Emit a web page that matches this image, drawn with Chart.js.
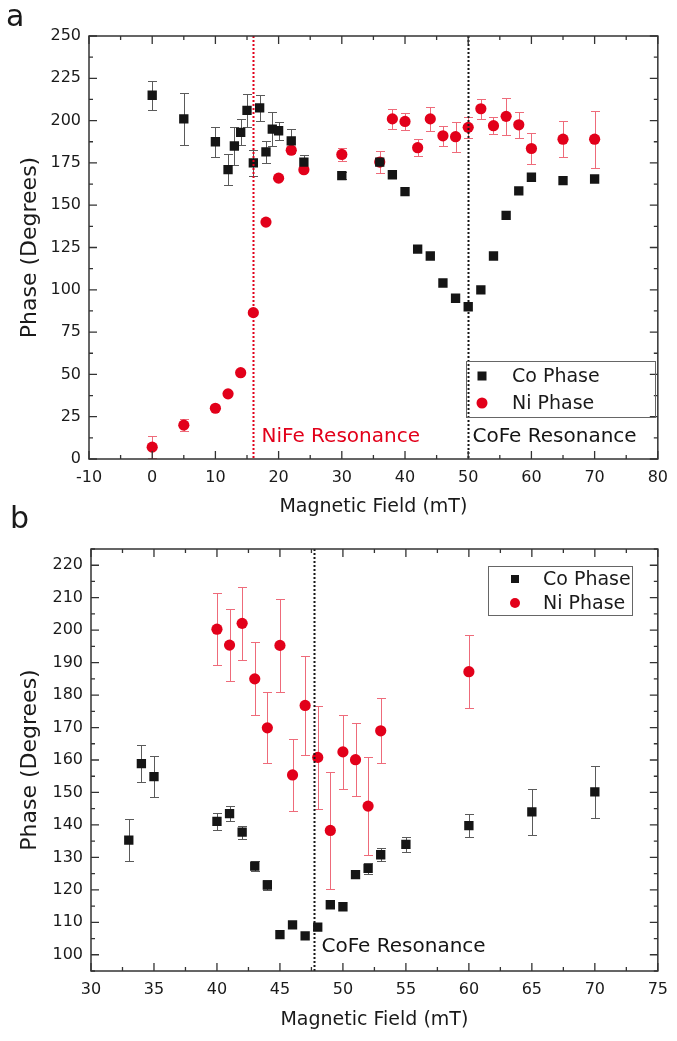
<!DOCTYPE html>
<html>
<head>
<meta charset="utf-8">
<script src="https://cdn.jsdelivr.net/npm/chart.js@4.4.0/dist/chart.umd.min.js"></script>
<style>
html, body { margin: 0; padding: 0; background: #fff; }
#wrap { position: relative; width: 677px; height: 1041px; }
.panel { position: absolute; left: 0; width: 677px; }
</style>
</head>
<body>
<div id="wrap">
  <div class="panel" style="top:0;height:525px"><canvas id="chartA"></canvas></div>
  <div class="panel" style="top:500px;height:541px"><canvas id="chartB"></canvas></div>
</div>
<script>
// ---- panel a data ----
const coFieldA = [0, 5, 10, 12, 13, 14, 15, 16, 17, 18, 19, 20, 22, 24, 30, 36, 38, 40, 42, 44, 46, 48, 50, 52, 54, 56, 58, 60, 65, 70];
const coPhaseA = [215, 201, 187.5, 171, 185, 193, 206, 175, 207.5, 181.5, 195, 194, 188, 175.5, 167.5, 175.5, 168, 158, 124, 120, 104, 95, 90, 100, 120, 144, 158.5, 166.5, 164.5, 165.5];
const coErrA   = [8.5, 15.5, 9, 9, 11.5, 7.7, 10, 7.7, 7.6, 6.6, 10, 5.4, 7, 4, 2, 0, 0, 0, 0, 0, 0, 0, 0, 0, 0, 0, 0, 0, 0, 0];
const niFieldA = [0, 5, 10, 12, 14, 16, 18, 20, 22, 24, 30, 36, 38, 40, 42, 44, 46, 48, 50, 52, 54, 56, 58, 60, 65, 70];
const niPhaseA = [7, 20, 30, 38.5, 51, 86.5, 140, 166, 182.5, 171, 180, 175.5, 201, 199.5, 184, 201, 191, 190.5, 196, 207, 197, 202.5, 197.5, 183.5, 189, 189];
const niErrA   = [6.3, 3.5, 0, 0, 0, 0, 0, 0, 0, 0, 3.7, 6.4, 5.8, 4.9, 5.2, 7.1, 6.1, 8.9, 6, 5.9, 5.1, 11, 7.5, 9, 10.8, 16.8];
const xTicksA = [-10, 0, 10, 20, 30, 40, 50, 60, 70, 80];
const yTicksA = [0, 25, 50, 75, 100, 125, 150, 175, 200, 225, 250];

// ---- panel b data ----
const coFieldB = [33, 34, 35, 40, 41, 42, 43, 44, 45, 46, 47, 48, 49, 50, 51, 52, 53, 55, 60, 65, 70];
const coPhaseB = [135.3, 158.9, 154.9, 141.1, 143.5, 137.8, 127.3, 121.5, 106.2, 109.2, 105.8, 108.5, 115.4, 114.8, 124.7, 126.6, 130.8, 134, 139.8, 144, 150.2];
const coErrB   = [6.4, 5.7, 6.3, 2.6, 2.4, 2, 1.5, 1.5, 0, 0, 0, 0, 0, 0, 0, 1.8, 2, 2.3, 3.6, 7, 8];
const niFieldB = [40, 41, 42, 43, 44, 45, 46, 47, 48, 49, 50, 51, 52, 53, 60];
const niPhaseB = [200.3, 195.4, 202.1, 185, 169.9, 195.3, 155.4, 176.8, 160.8, 138.3, 162.5, 160.1, 145.8, 169, 187.2];
const niErrB   = [11, 11.2, 11.3, 11.2, 10.9, 14.4, 11.2, 15.2, 15.8, 17.9, 11.4, 11.3, 15.1, 10, 11.2];
const xTicksB = [30, 35, 40, 45, 50, 55, 60, 65, 70, 75];
const yTicksB = [100, 110, 120, 130, 140, 150, 160, 170, 180, 190, 200, 210, 220];

const RED = '#e2001a';
const BLACK = '#151515';
const FONT = '"DejaVu Sans", sans-serif';

function pts(xs, ys) {
  return xs.map((x, i) => ({ x: x, y: ys[i] }));
}

// half-way ticks, plus the ones hanging past the ends if still inside the axis
function minorTicks(major, min, max) {
  const out = [];
  const step = major[1] - major[0];
  if (major[0] - step / 2 >= min) out.push(major[0] - step / 2);
  for (let i = 0; i < major.length - 1; i++) out.push((major[i] + major[i + 1]) / 2);
  const last = major[major.length - 1];
  if (last + step / 2 <= max) out.push(last + step / 2);
  return out;
}

// frame, inward ticks, error bars, marker lines, legend, titles
const decoPlugin = {
  id: 'deco',
  beforeDatasetsDraw(chart) {
    const ctx = chart.ctx, xs = chart.scales.x, ys = chart.scales.y;
    chart.data.datasets.forEach(ds => {
      if (!ds.errors) return;
      ctx.save();
      ctx.strokeStyle = ds.errorColor;
      ctx.lineWidth = 1;
      ds.data.forEach((p, j) => {
        const e = ds.errors[j];
        if (!e) return;
        const x = Math.round(xs.getPixelForValue(p.x)) + 0.5;
        const y1 = Math.round(ys.getPixelForValue(p.y - e)) + 0.5;
        const y2 = Math.round(ys.getPixelForValue(p.y + e)) + 0.5;
        ctx.beginPath();
        ctx.moveTo(x, y1); ctx.lineTo(x, y2);
        ctx.moveTo(x - 4.5, y1); ctx.lineTo(x + 4.5, y1);
        ctx.moveTo(x - 4.5, y2); ctx.lineTo(x + 4.5, y2);
        ctx.stroke();
      });
      ctx.restore();
    });
  },
  afterDraw(chart, args, o) {
    const ctx = chart.ctx, a = chart.chartArea, xs = chart.scales.x, ys = chart.scales.y;
    ctx.save();

    // resonance lines
    o.lines.forEach(l => {
      const px = Math.round(xs.getPixelForValue(l.x)) + 0.5;
      ctx.strokeStyle = l.color;
      ctx.lineWidth = 2;
      ctx.setLineDash([2, 2]);
      ctx.beginPath();
      ctx.moveTo(px, a.top);
      ctx.lineTo(px, a.bottom);
      ctx.stroke();
      ctx.setLineDash([]);
      ctx.fillStyle = l.color;
      ctx.font = '20px ' + FONT;
      ctx.textAlign = 'left';
      ctx.textBaseline = 'middle';
      ctx.fillText(l.text, px + l.dx, a.bottom + l.dy);
    });

    // frame
    ctx.strokeStyle = '#333';
    ctx.lineWidth = 1.5;
    ctx.strokeRect(a.left, a.top, a.right - a.left, a.bottom - a.top);

    // inward tick marks on all four sides
    ctx.lineWidth = 1.3;
    const xTick = (v, len) => {
      const px = xs.getPixelForValue(v);
      ctx.beginPath();
      ctx.moveTo(px, a.bottom); ctx.lineTo(px, a.bottom - len);
      ctx.moveTo(px, a.top); ctx.lineTo(px, a.top + len);
      ctx.stroke();
    };
    const yTick = (v, len) => {
      const py = ys.getPixelForValue(v);
      ctx.beginPath();
      ctx.moveTo(a.left, py); ctx.lineTo(a.left + len, py);
      ctx.moveTo(a.right, py); ctx.lineTo(a.right - len, py);
      ctx.stroke();
    };
    o.xMajor.forEach(v => xTick(v, 8));
    minorTicks(o.xMajor, xs.min, xs.max).forEach(v => xTick(v, 4));
    o.yMajor.forEach(v => yTick(v, 8));
    minorTicks(o.yMajor, ys.min, ys.max).forEach(v => yTick(v, 4));

    // legend
    const lg = o.legend;
    ctx.strokeStyle = '#666';
    ctx.lineWidth = 1;
    ctx.strokeRect(lg.x + 0.5, lg.y + 0.5, lg.w, lg.h);
    ctx.font = '19px ' + FONT;
    ctx.textAlign = 'left';
    ctx.textBaseline = 'middle';
    lg.items.forEach((it, i) => {
      const cy = lg.y + lg.first + i * lg.gap;
      ctx.fillStyle = it.color;
      if (it.shape === 'rect') {
        ctx.fillRect(lg.mx - lg.ms / 2, cy - lg.ms / 2, lg.ms, lg.ms);
      } else {
        ctx.beginPath();
        ctx.arc(lg.mx, cy, lg.ms / 2 + 1, 0, Math.PI * 2);
        ctx.fill();
      }
      ctx.fillStyle = '#1a1a1a';
      ctx.fillText(it.label, lg.tx, cy + 1);
    });

    // axis titles
    ctx.fillStyle = '#1a1a1a';
    ctx.font = '19px ' + FONT;
    ctx.textAlign = 'center';
    ctx.textBaseline = 'middle';
    ctx.fillText(o.xTitle, (a.left + a.right) / 2, o.xTitleY);
    ctx.save();
    ctx.font = '22px ' + FONT;
    ctx.translate(o.yTitleX, (a.top + a.bottom) / 2);
    ctx.rotate(-Math.PI / 2);
    ctx.fillText(o.yTitle, 0, 0);
    ctx.restore();

    // panel letter
    ctx.font = '30px ' + FONT;
    ctx.textAlign = 'left';
    ctx.fillText(o.letter, o.letterX, o.letterY);

    ctx.restore();
  }
};

function makePanel(id, p) {
  const tickFont = { family: FONT, size: 16 };
  new Chart(document.getElementById(id), {
    type: 'scatter',
    data: {
      datasets: [
        {
          label: 'Co Phase',
          data: pts(p.coField, p.coPhase),
          errors: p.coErr,
          errorColor: '#5a5a5a',
          pointStyle: 'rect',
          pointRadius: 6.6,
          backgroundColor: BLACK,
          borderWidth: 0
        },
        {
          label: 'Ni Phase',
          data: pts(p.niField, p.niPhase),
          errors: p.niErr,
          errorColor: '#ee6b7a',
          pointStyle: 'circle',
          pointRadius: 5.6,
          backgroundColor: RED,
          borderWidth: 0
        }
      ]
    },
    options: {
      responsive: true,
      maintainAspectRatio: false,
      animation: false,
      layout: { padding: { top: p.padTop, right: p.padRight, left: 0, bottom: 0 } },
      plugins: {
        legend: { display: false },
        tooltip: { enabled: false },
        deco: p.deco
      },
      scales: {
        x: {
          type: 'linear',
          min: p.xMin, max: p.xMax,
          afterBuildTicks: s => { s.ticks = p.xTicks.map(v => ({ value: v })); },
          afterFit: s => { s.height = p.xHeight; },
          grid: { display: false, drawTicks: false },
          border: { display: false },
          ticks: { font: tickFont, color: '#1a1a1a', padding: 9, maxRotation: 0 }
        },
        y: {
          type: 'linear',
          min: p.yMin, max: p.yMax,
          afterBuildTicks: s => { s.ticks = p.yTicks.map(v => ({ value: v })); },
          afterFit: s => { s.width = p.yWidth; },
          grid: { display: false, drawTicks: false },
          border: { display: false },
          ticks: { font: tickFont, color: '#1a1a1a', padding: 8 }
        }
      }
    },
    plugins: [decoPlugin]
  });
}

makePanel('chartA', {
  coField: coFieldA, coPhase: coPhaseA, coErr: coErrA,
  niField: niFieldA, niPhase: niPhaseA, niErr: niErrA,
  xTicks: xTicksA, yTicks: yTicksA,
  xMin: -10, xMax: 80, yMin: 0, yMax: 250,
  padTop: 36, padRight: 15, xHeight: 66, yWidth: 89,
  deco: {
    xMajor: xTicksA, yMajor: yTicksA,
    lines: [
      { x: 16, color: RED, text: 'NiFe Resonance', dx: 8, dy: -22 },
      { x: 50, color: BLACK, text: 'CoFe Resonance', dx: 4, dy: -22 }
    ],
    legend: {
      x: 466, y: 361, w: 189, h: 56, mx: 482, ms: 9, tx: 512, first: 15, gap: 27,
      items: [
        { shape: 'rect', color: BLACK, label: 'Co Phase' },
        { shape: 'circle', color: RED, label: 'Ni Phase' }
      ]
    },
    xTitle: 'Magnetic Field (mT)', xTitleY: 507,
    yTitle: 'Phase (Degrees)', yTitleX: 30,
    letter: 'a', letterX: 6, letterY: 18
  }
});

makePanel('chartB', {
  coField: coFieldB, coPhase: coPhaseB, coErr: coErrB,
  niField: niFieldB, niPhase: niPhaseB, niErr: niErrB,
  xTicks: xTicksB, yTicks: yTicksB,
  xMin: 30, xMax: 75, yMin: 95, yMax: 225,
  padTop: 49, padRight: 16, xHeight: 70, yWidth: 91,
  deco: {
    xMajor: xTicksB, yMajor: yTicksB,
    lines: [
      { x: 47.7, color: BLACK, text: 'CoFe Resonance', dx: 7, dy: -24 }
    ],
    legend: {
      x: 488, y: 66, w: 144, h: 49, mx: 515, ms: 8, tx: 543, first: 13, gap: 24,
      items: [
        { shape: 'rect', color: BLACK, label: 'Co Phase' },
        { shape: 'circle', color: RED, label: 'Ni Phase' }
      ]
    },
    xTitle: 'Magnetic Field (mT)', xTitleY: 520,
    yTitle: 'Phase (Degrees)', yTitleX: 30,
    letter: 'b', letterX: 10, letterY: 20
  }
});
</script>
</body>
</html>
